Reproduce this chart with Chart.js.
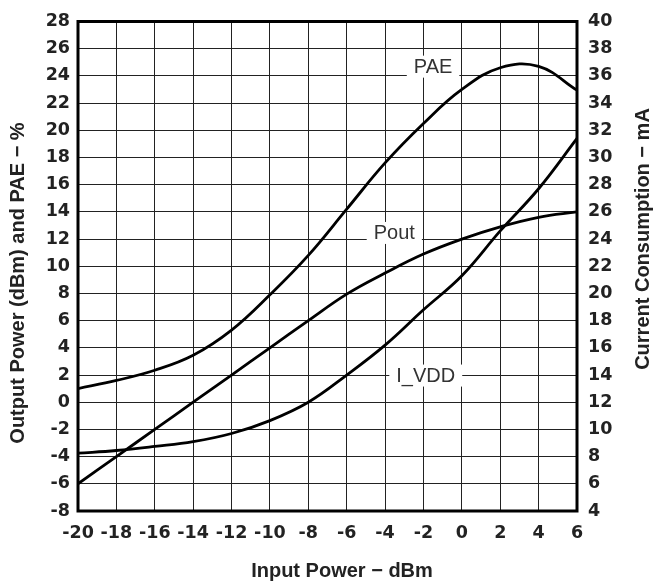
<!DOCTYPE html>
<html>
<head>
<meta charset="utf-8">
<script src="https://cdn.jsdelivr.net/npm/chart.js@4"></script>
<style>
  html, body { margin: 0; padding: 0; background: #fff; }
  #wrap { width: 653px; height: 584px; }
</style>
</head>
<body>
<div id="wrap"><canvas id="chart" width="653" height="584"></canvas></div>
<script>
/* ===========================
   DATA
=========================== */

const inputPower = [-20, -18, -16, -14, -12, -10, -8, -6, -4, -2, 0, 2, 4, 6];
const paeValues  = [1.0, 1.6, 2.35, 3.45, 5.3, 7.9, 10.8, 14.2, 17.6, 20.5, 23.0, 24.6, 24.7, 22.95];
const poutValues = [-6.0, -4.0, -2.0, 0.0, 2.0, 4.0, 6.0, 7.95, 9.5, 10.9, 12.0, 12.9, 13.6, 14.0];
const iddValues  = [8.25, 8.45, 8.75, 9.1, 9.7, 10.65, 12.0, 14.0, 16.2, 18.8, 21.3, 24.6, 27.7, 31.4];

const xTicks     = [-20, -18, -16, -14, -12, -10, -8, -6, -4, -2, 0, 2, 4, 6];
const leftTicks  = [-8, -6, -4, -2, 0, 2, 4, 6, 8, 10, 12, 14, 16, 18, 20, 22, 24, 26, 28];
const rightTicks = [4, 6, 8, 10, 12, 14, 16, 18, 20, 22, 24, 26, 28, 30, 32, 34, 36, 38, 40];

const toPoints = (ys) => inputPower.map((x, i) => ({ x: x, y: ys[i] }));
const useTicks = (list) => (scale) => { scale.ticks = list.map(v => ({ value: v })); };

const tickFont = { family: "'DejaVu Sans', sans-serif", size: 17.5, weight: "bold" };

/* ===========================
   PLUGINS
=========================== */

// curve names sitting on white boxes over the grid
const curveLabels = {
  id: "curveLabels",
  beforeDatasetsDraw(chart, args, opts) {
    const ctx = chart.ctx;
    ctx.save();
    ctx.font = "20px 'Liberation Sans', Arial, sans-serif";
    ctx.textAlign = "center";
    ctx.textBaseline = "middle";
    opts.items.forEach(it => {
      const px = chart.scales.x.getPixelForValue(it.x);
      const py = chart.scales[it.axis].getPixelForValue(it.y);
      const w = ctx.measureText(it.text).width + 14;
      ctx.fillStyle = "#fff";
      ctx.fillRect(px - w / 2, py - 11, w, 22);
      ctx.fillStyle = "#333";
      ctx.fillText(it.text, px, py + 1);
    });
    ctx.restore();
  }
};

// heavy frame round the plot + axis titles
const frameAndTitles = {
  id: "frameAndTitles",
  afterDraw(chart) {
    const { ctx, chartArea: a } = chart;
    ctx.save();
    ctx.strokeStyle = "#000";
    ctx.lineWidth = 3;
    ctx.strokeRect(a.left, a.top, a.right - a.left, a.bottom - a.top);

    ctx.fillStyle = "#222";
    ctx.font = "bold 20px 'Liberation Sans', Arial, sans-serif";
    ctx.textAlign = "center";
    ctx.textBaseline = "middle";
    ctx.fillText("Input Power \u2212 dBm", 342, 571);

    ctx.translate(18, 283);
    ctx.rotate(-Math.PI / 2);
    ctx.fillText("Output Power (dBm) and PAE \u2212 %", 0, 0);
    ctx.restore();

    ctx.save();
    ctx.fillStyle = "#222";
    ctx.font = "bold 20px 'Liberation Sans', Arial, sans-serif";
    ctx.textAlign = "center";
    ctx.textBaseline = "middle";
    ctx.translate(643, 239);
    ctx.rotate(-Math.PI / 2);
    ctx.fillText("Current Consumption \u2212 mA", 0, 0);
    ctx.restore();
  }
};

/* ===========================
   CHART
=========================== */

const ctx = document.getElementById("chart").getContext("2d");

new Chart(ctx, {
  type: "line",
  data: {
    datasets: [
      { label: "PAE",   data: toPoints(paeValues),  yAxisID: "y" },
      { label: "Pout",  data: toPoints(poutValues), yAxisID: "y" },
      { label: "I_VDD", data: toPoints(iddValues),  yAxisID: "y2" }
    ]
  },
  options: {
    responsive: false,
    animation: false,
    layout: { padding: { top: 12, left: 0, right: 0, bottom: 0 } },
    elements: {
      line: { borderColor: "#000", borderWidth: 2.8, tension: 0.4, fill: false },
      point: { radius: 0 }
    },
    plugins: {
      legend: { display: false },
      tooltip: { enabled: false },
      curveLabels: {
        items: [
          { text: "PAE",   x: -1.5,  y: 24.68, axis: "y" },
          { text: "Pout",  x: -3.52, y: 12.45, axis: "y" },
          { text: "I_VDD", x: -1.88, y: 13.96, axis: "y2" }
        ]
      }
    },
    scales: {
      x: {
        type: "linear",
        min: -20, max: 6,
        afterBuildTicks: useTicks(xTicks),
        afterFit: (s) => { s.height = 73; },
        grid: { color: "#222", lineWidth: 1, drawTicks: false },
        border: { display: false },
        ticks: { color: "#222", font: tickFont, padding: 12, maxRotation: 0, autoSkip: false }
      },
      y: {
        position: "left",
        min: -8, max: 28,
        afterBuildTicks: useTicks(leftTicks),
        afterFit: (s) => { s.width = 78; },
        grid: { color: "#222", lineWidth: 1, drawTicks: false },
        border: { display: false },
        ticks: { color: "#222", font: tickFont, padding: 8, autoSkip: false }
      },
      y2: {
        position: "right",
        min: 4, max: 40,
        afterBuildTicks: useTicks(rightTicks),
        afterFit: (s) => { s.width = 76; },
        grid: { drawOnChartArea: false, drawTicks: false },
        border: { display: false },
        ticks: { color: "#222", font: tickFont, padding: 11, autoSkip: false }
      }
    }
  },
  plugins: [curveLabels, frameAndTitles]
});
</script>
</body>
</html>
